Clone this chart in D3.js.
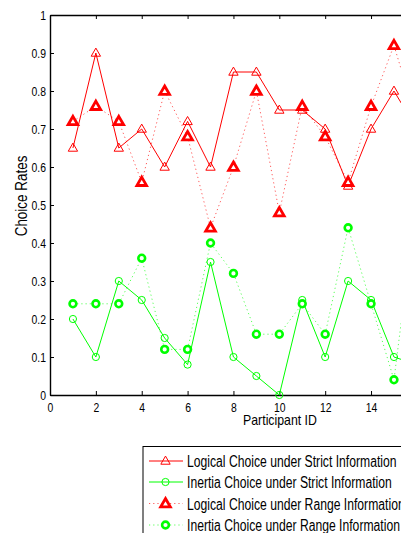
<!DOCTYPE html>
<html>
<head>
<meta charset="utf-8">
<script src="https://cdn.jsdelivr.net/npm/d3@7"></script>
<style>
  body { margin: 0; background: #fff; }
  text { font-family: "Liberation Sans", Arial, Helvetica, sans-serif; fill: #000; }
</style>
</head>
<body>
<script>
const width = 401;
const height = 533;

// data (participant 16 is mostly off the right edge)
const participants = [1, 2, 3, 4, 5, 6, 7, 8, 9, 10, 11, 12, 13, 14, 15, 16];
const logicalStrict = [0.65, 0.9, 0.65, 0.7, 0.6, 0.72, 0.6, 0.85, 0.85, 0.75, 0.75, 0.7, 0.55, 0.7, 0.8, 0.7];
const inertiaStrict = [0.2, 0.1, 0.3, 0.25, 0.15, 0.08, 0.35, 0.1, 0.05, 0, 0.25, 0.1, 0.3, 0.25, 0.1, 0.08];
const logicalRange = [0.72, 0.76, 0.72, 0.56, 0.8, 0.68, 0.44, 0.6, 0.8, 0.48, 0.76, 0.68, 0.56, 0.76, 0.92, 0.72];
const inertiaRange = [0.24, 0.24, 0.24, 0.36, 0.12, 0.12, 0.4, 0.32, 0.16, 0.16, 0.24, 0.16, 0.44, 0.24, 0.04, 0.52];
const xTicks = [0, 2, 4, 6, 8, 10, 12, 14];
const yTicks = [0, 0.1, 0.2, 0.3, 0.4, 0.5, 0.6, 0.7, 0.8, 0.9, 1];
const legendLabels = [
  "Logical Choice under Strict Information",
  "Inertia Choice under Strict Information",
  "Logical Choice under Range Information",
  "Inertia Choice under Range Information"
];

const margin = { top: 15, left: 50, bottom: 138 };
const plotRight = 416.9;

const svg = d3.select('body')
  .append('svg')
  .attr('width', width)
  .attr('height', height);

// the original font is a narrow helvetica, squeeze the text sideways
function squeeze(sel, k) {
  sel.each(function () {
    const w = this.getComputedTextLength();
    d3.select(this).attr('textLength', w * k).attr('lengthAdjust', 'spacingAndGlyphs');
  });
}

const x = d3.scaleLinear().domain([0, 16]).range([margin.left, plotRight]);
const y = d3.scaleLinear().domain([0, 1]).range([height - margin.bottom, margin.top]);

// axes, ticks pointing inward
const xAxis = d3.axisBottom(x).tickValues(xTicks).tickSize(-4).tickSizeOuter(0).tickPadding(8);
const xAxisTop = d3.axisTop(x).tickValues(xTicks).tickSize(-4).tickSizeOuter(0).tickFormat('');
const yAxis = d3.axisLeft(y).tickValues(yTicks).tickSize(-4).tickSizeOuter(0).tickPadding(4)
  .tickFormat(d => d3.format('~g')(d));

const gx = svg.append('g').attr('transform', `translate(0, ${y(0)})`).call(xAxis);
const gxt = svg.append('g').attr('transform', `translate(0, ${y(1)})`).call(xAxisTop);
const gy = svg.append('g').attr('transform', `translate(${x(0)}, 0)`).call(yAxis);

[gx, gxt, gy].forEach(g => {
  g.select('.domain').attr('stroke', '#000').attr('stroke-width', 1.4);
  g.selectAll('.tick line').attr('stroke', '#000').attr('stroke-width', 1);
  g.selectAll('.tick text').style('font-size', '13px').attr('fill', '#000').call(squeeze, 0.8);
});

svg.append('text')
  .attr('x', 280)
  .attr('y', 425)
  .attr('text-anchor', 'middle')
  .style('font-size', '15px')
  .text('Participant ID')
  .call(squeeze, 0.82);

svg.append('text')
  .attr('transform', 'translate(27, 196) rotate(-90)')
  .attr('text-anchor', 'middle')
  .style('font-size', '16px')
  .text('Choice Rates')
  .call(squeeze, 0.84);

const series = [
  { values: logicalStrict, color: '#ff0000', dotted: false, marker: 'triangle', bold: false },
  { values: inertiaStrict, color: '#00ff00', dotted: false, marker: 'circle', bold: false },
  { values: logicalRange, color: '#ff0000', dotted: true, marker: 'triangle', bold: true },
  { values: inertiaRange, color: '#00ff00', dotted: true, marker: 'circle', bold: true }
];

const line = d3.line().x(d => x(d[0])).y(d => y(d[1]));
const triangle = d3.symbol().type(d3.symbolTriangle);

function drawMarker(g, s, cx, cy) {
  if (s.marker === 'triangle') {
    g.append('path')
      .attr('d', triangle.size(s.bold ? 40 : 38)())
      .attr('transform', `translate(${cx}, ${cy + 0.5})`)
      .attr('fill', s.bold ? '#fff' : 'none')
      .attr('stroke', s.color)
      .attr('stroke-width', s.bold ? 2.8 : 1)
      .attr('stroke-linejoin', 'miter');
  } else {
    g.append('circle')
      .attr('cx', cx)
      .attr('cy', cy)
      .attr('r', s.bold ? 3.4 : 3.6)
      .attr('fill', s.bold ? '#fff' : 'none')
      .attr('stroke', s.color)
      .attr('stroke-width', s.bold ? 2.6 : 1);
  }
}

series.forEach(s => {
  const pts = participants.map((p, i) => [p, s.values[i]]);
  svg.append('path')
    .datum(pts)
    .attr('d', line)
    .attr('fill', 'none')
    .attr('stroke', s.color)
    .attr('stroke-width', 1)
    .attr('stroke-opacity', s.dotted ? 0.65 : 1)
    .attr('stroke-dasharray', s.dotted ? '1.2,3' : null);
  const g = svg.append('g');
  pts.forEach(d => drawMarker(g, s, x(d[0]), y(d[1])));
});

// legend
const legend = svg.append('g');
legend.append('rect')
  .attr('x', 143)
  .attr('y', 446.5)
  .attr('width', 300)
  .attr('height', 120)
  .attr('fill', '#fff')
  .attr('stroke', '#000')
  .attr('stroke-width', 1);

const rowY = [461, 482, 503.5, 525];
series.forEach((s, i) => {
  legend.append('line')
    .attr('x1', 149).attr('x2', 183)
    .attr('y1', rowY[i]).attr('y2', rowY[i])
    .attr('stroke', s.color)
    .attr('stroke-width', 1)
    .attr('stroke-opacity', s.dotted ? 0.65 : 1)
    .attr('stroke-dasharray', s.dotted ? '1.2,3' : null);
  drawMarker(legend, s, 165.5, rowY[i]);
  legend.append('text')
    .attr('x', 187)
    .attr('y', rowY[i] + 6)
    .style('font-size', '16px')
    .text(legendLabels[i])
    .call(squeeze, 0.76);
});
</script>
</body>
</html>
